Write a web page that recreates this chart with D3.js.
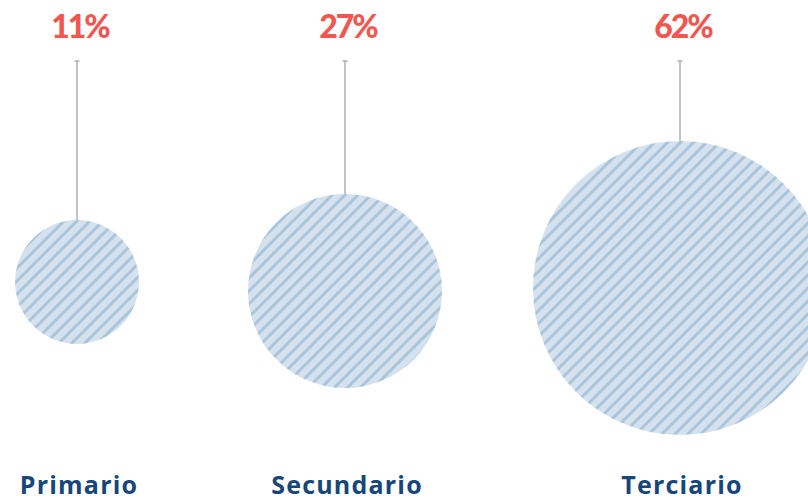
<!DOCTYPE html>
<html>
<head>
<meta charset="utf-8">
<script src="https://cdn.jsdelivr.net/npm/d3@7"></script>
<style>
  body { margin: 0; background: #fff; }
  svg { display: block; }
</style>
</head>
<body>
<div id="chart"></div>
<script>
// data
var categories = ["Primario", "Secundario", "Terciario"];
var shares = [11, 27, 62];
var shareLabels = ["11%", "27%", "62%"];

var width = 808, height = 502;

var svg = d3.select("#chart")
  .append("svg")
  .attr("width", width)
  .attr("height", height);

// hatch pattern
var defs = svg.append("defs");
var pat = defs.append("pattern")
  .attr("id", "hatch")
  .attr("patternUnits", "userSpaceOnUse")
  .attr("width", 13)
  .attr("height", 13);
pat.append("rect")
  .attr("width", 13)
  .attr("height", 13)
  .attr("fill", "#d5e2ed");
pat.append("path")
  .attr("d", "M-3,3 L3,-3 M0,13 L13,0 M10,16 L16,10")
  .attr("stroke", "#a9c5db")
  .attr("stroke-width", 3);

// scales
var x = d3.scaleOrdinal()
  .domain(categories)
  .range([77, 345, 680]);

var cy = d3.scaleOrdinal()
  .domain(categories)
  .range([282, 291, 288]);

var r = d3.scaleSqrt()
  .domain([0, d3.max(shares)])
  .range([0, 147]);

var stemTop = 61;

var data = categories.map(function (c, i) {
  return { cat: c, value: shares[i], label: shareLabels[i] };
});

var g = svg.selectAll(".bubble")
  .data(data)
  .enter()
  .append("g")
  .attr("class", "bubble")
  .attr("transform", function (d) { return "translate(" + x(d.cat) + ",0)"; });

// stems
g.append("line")
  .attr("x1", 0).attr("x2", 0)
  .attr("y1", stemTop)
  .attr("y2", function (d) { return cy(d.cat) - r(d.value); })
  .attr("stroke", "#aaaaaa")
  .attr("stroke-width", 1.4);
g.append("line")
  .attr("x1", -2.5).attr("x2", 2.5)
  .attr("y1", stemTop).attr("y2", stemTop)
  .attr("stroke", "#aaaaaa")
  .attr("stroke-width", 1.4);

// circles
g.append("circle")
  .attr("cx", 0)
  .attr("cy", function (d) { return cy(d.cat); })
  .attr("r", function (d) { return r(d.value); })
  .attr("fill", "url(#hatch)");

// percent labels
g.append("text")
  .attr("x", 3)
  .attr("y", 38)
  .attr("text-anchor", "middle")
  .attr("fill", "#ef5750")
  .attr("font-family", "Lato, sans-serif")
  .attr("font-weight", 900)
  .attr("font-size", "32px")
  .attr("letter-spacing", "-2px")
  .text(function (d) { return d.label; });

// category labels
g.append("text")
  .attr("x", 2)
  .attr("y", 494)
  .attr("text-anchor", "middle")
  .attr("fill", "#17467b")
  .attr("font-family", "'Open Sans', sans-serif")
  .attr("font-weight", 700)
  .attr("font-size", "25px")
  .attr("letter-spacing", "1.2px")
  .text(function (d) { return d.cat; });
</script>
</body>
</html>
